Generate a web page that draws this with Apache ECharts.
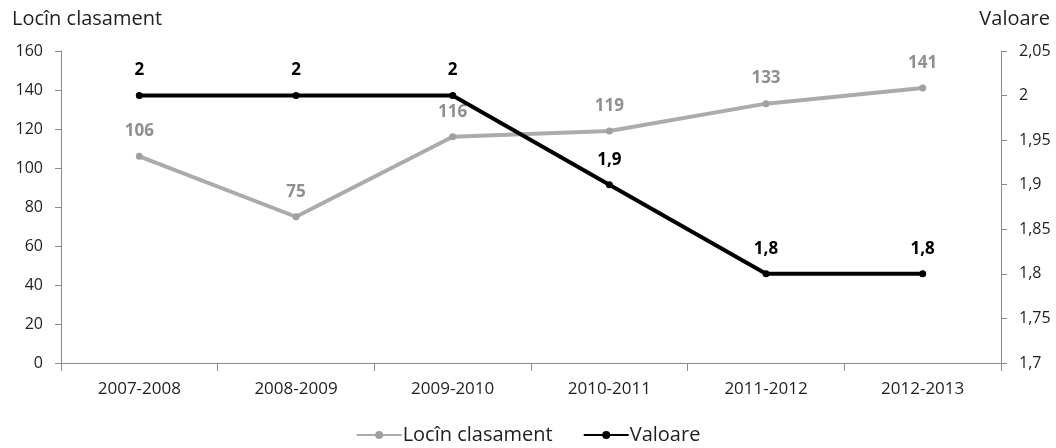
<!DOCTYPE html>
<html>
<head>
<meta charset="utf-8">
<script src="https://cdn.jsdelivr.net/npm/echarts@6/dist/echarts.min.js"></script>
<style>
  html, body { margin: 0; padding: 0; background: #fff; }
  #chart { width: 1056px; height: 448px; }
</style>
</head>
<body>
<div id="chart"></div>
<script>
// Academic years on the category axis
const years = ['2007-2008', '2008-2009', '2009-2010', '2010-2011', '2011-2012', '2012-2013'];
// Ranking position (left axis)
const rankValues = [106, 75, 116, 119, 133, 141];
// Score value (right axis)
const scoreValues = [2, 2, 2, 1.9, 1.8, 1.8];

const FONT = '"Open Sans", "Noto Sans", sans-serif';
const TEXT = '#1f1f1f';
const AXIS = '#8a8a8a';
const fmtComma = v => String(Math.round(v * 100) / 100).replace('.', ',');

const chart = echarts.init(document.getElementById('chart'));
chart.setOption({
  animation: false,
  textStyle: { fontFamily: FONT },
  grid: { left: 61, right: 55, top: 51, bottom: 85 },
  legend: {
    bottom: -2,
    left: 'center',
    itemWidth: 45,
    itemHeight: 10,
    itemGap: 30,
    textStyle: { fontFamily: FONT, fontSize: 20, color: TEXT, padding: [0, 0, 0, -4] },
    data: ['Locîn clasament', 'Valoare']
  },
  xAxis: {
    type: 'category',
    data: years,
    boundaryGap: true,
    axisLine: { lineStyle: { color: AXIS, width: 1 } },
    axisTick: { show: true, alignWithLabel: false, length: 8, lineStyle: { color: AXIS } },
    axisLabel: { fontFamily: FONT, fontSize: 17, color: TEXT, margin: 18 }
  },
  yAxis: [
    {
      type: 'value',
      name: 'Locîn clasament',
      nameLocation: 'end',
      nameGap: 22,
      nameTextStyle: { fontFamily: FONT, fontSize: 20, color: TEXT, align: 'left', padding: [0, 0, 0, -49] },
      min: 0, max: 160, interval: 20,
      axisLine: { show: true, lineStyle: { color: AXIS } },
      axisTick: { show: true, length: 6, lineStyle: { color: AXIS } },
      splitLine: { show: false },
      axisLabel: { fontFamily: FONT, fontSize: 16, color: TEXT, margin: 18 }
    },
    {
      type: 'value',
      name: 'Valoare',
      nameLocation: 'end',
      nameGap: 22,
      nameTextStyle: { fontFamily: FONT, fontSize: 20, color: TEXT, align: 'right', padding: [0, -49, 0, 0] },
      min: 1.7, max: 2.05, interval: 0.05,
      position: 'right',
      axisLine: { show: true, lineStyle: { color: AXIS } },
      axisTick: { show: true, length: 6, lineStyle: { color: AXIS } },
      splitLine: { show: false },
      axisLabel: { fontFamily: FONT, fontSize: 16, color: TEXT, margin: 18, formatter: fmtComma }
    }
  ],
  series: [
    {
      name: 'Locîn clasament',
      type: 'line',
      yAxisIndex: 0,
      data: rankValues,
      symbol: 'circle',
      symbolSize: 7,
      lineStyle: { color: '#ababab', width: 4 },
      itemStyle: { color: '#a0a0a0' },
      label: {
        show: true, position: 'top', distance: 13,
        fontFamily: FONT, fontSize: 17, fontWeight: 'bold', color: '#8f8f8f'
      },
      z: 2
    },
    {
      name: 'Valoare',
      type: 'line',
      yAxisIndex: 1,
      data: scoreValues,
      symbol: 'circle',
      symbolSize: 7,
      lineStyle: { color: '#000', width: 4 },
      itemStyle: { color: '#000' },
      label: {
        show: true, position: 'top', distance: 13,
        fontFamily: FONT, fontSize: 17, fontWeight: 'bold', color: '#000',
        formatter: p => fmtComma(p.value)
      },
      z: 3
    }
  ]
});
</script>
</body>
</html>
